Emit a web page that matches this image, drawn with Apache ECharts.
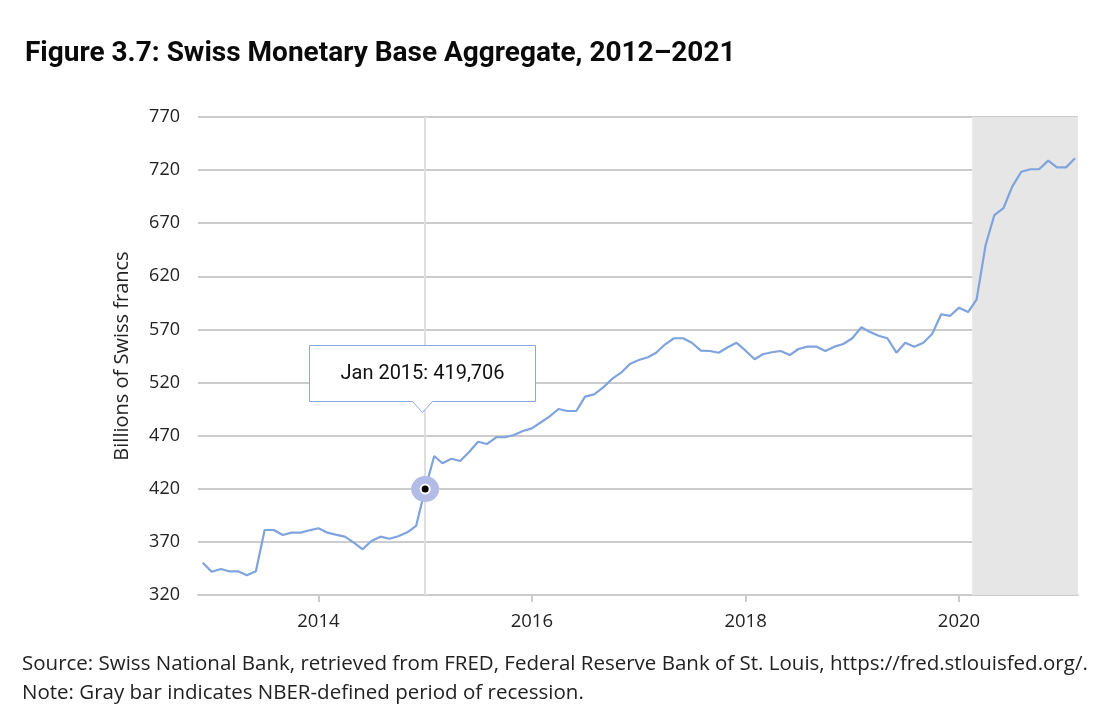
<!DOCTYPE html>
<html><head><meta charset="utf-8">
<script src="https://cdn.jsdelivr.net/npm/echarts@6/dist/echarts.min.js"></script>
<style>html,body{margin:0;padding:0;background:#fff}#c{width:1108px;height:722px}</style>
</head><body><div id="c"></div>
<script>
// Monthly observations, Dec 2012 – Feb 2021 (billions of Swiss francs)
const months = [
  '2012-12',
  '2013-01','2013-02','2013-03','2013-04','2013-05','2013-06','2013-07','2013-08','2013-09','2013-10','2013-11','2013-12',
  '2014-01','2014-02','2014-03','2014-04','2014-05','2014-06','2014-07','2014-08','2014-09','2014-10','2014-11','2014-12',
  '2015-01','2015-02','2015-03','2015-04','2015-05','2015-06','2015-07','2015-08','2015-09','2015-10','2015-11','2015-12',
  '2016-01','2016-02','2016-03','2016-04','2016-05','2016-06','2016-07','2016-08','2016-09','2016-10','2016-11','2016-12',
  '2017-01','2017-02','2017-03','2017-04','2017-05','2017-06','2017-07','2017-08','2017-09','2017-10','2017-11','2017-12',
  '2018-01','2018-02','2018-03','2018-04','2018-05','2018-06','2018-07','2018-08','2018-09','2018-10','2018-11','2018-12',
  '2019-01','2019-02','2019-03','2019-04','2019-05','2019-06','2019-07','2019-08','2019-09','2019-10','2019-11','2019-12',
  '2020-01','2020-02','2020-03','2020-04','2020-05','2020-06','2020-07','2020-08','2020-09','2020-10','2020-11','2020-12',
  '2021-01','2021-02'
];
const values = [
  350.4,
  341.9, 344.5, 342.3, 342.3, 338.5, 342.3, 381.2, 381.2, 376.5, 378.7, 378.7, 380.9,
  382.8, 378.7, 376.8, 374.9, 369.6, 363.0, 370.8, 374.9, 373.0, 375.3, 379.0, 385.0,
  419.706, 450.9, 444.0, 448.3, 446.2, 454.9, 464.3, 462.2, 468.5, 468.5, 470.6, 474.4,
  476.9, 482.6, 487.9, 495.1, 493.2, 493.2, 506.7, 508.9, 515.5, 523.4, 529.3, 537.5,
  541.2, 543.8, 548.1, 556.0, 561.7, 561.7, 557.5, 550.0, 549.7, 548.1, 553.2, 557.5,
  550.0, 541.9, 546.6, 548.5, 549.7, 545.9, 551.6, 553.8, 553.8, 549.7, 553.8, 556.3,
  561.7, 572.0, 567.9, 564.1, 561.7, 548.1, 557.5, 553.8, 557.5, 565.7, 584.3, 582.7,
  590.5, 586.4, 598.0, 649.5, 677.7, 684.1, 704.4, 718.5, 720.8, 720.8, 728.9, 722.6,
  722.6, 731.1
];
const xTickYears = [2014, 2016, 2018, 2020];
const yMin = 320, yMax = 770, yStep = 50;
const xRange = ['2012-11-15', '2021-02-11'];
const recession = ['2020-02-15', '2021-02-11'];
const highlightMonth = '2015-01';
const monthNames = ['Jan','Feb','Mar','Apr','May','Jun','Jul','Aug','Sep','Oct','Nov','Dec'];

function ts(s) {
  const p = s.split('-').map(Number);
  return new Date(p[0], p[1] - 1, p[2] || 1).getTime();
}
const seriesData = months.map((m, i) => [ts(m), values[i]]);
const hi = months.indexOf(highlightMonth);
const hiPoint = seriesData[hi];
const hiDate = new Date(hiPoint[0]);
const hiLabel = monthNames[hiDate.getMonth()] + ' ' + hiDate.getFullYear() + ': ' +
  Math.round(hiPoint[1] * 1000).toLocaleString('en-US');
const xTicks = xTickYears.map(y => new Date(y, 0, 1).getTime());

const TFONT = 'Roboto, "Noto Sans", sans-serif';
const FONT = '"Open Sans", "Noto Sans", sans-serif';
const chart = echarts.init(document.getElementById('c'));
chart.setOption({
  animation: false,
  backgroundColor: '#fff',
  title: {
    text: 'Figure 3.7: Swiss Monetary Base Aggregate, 2012\u20132021',
    left: 20, top: 35,
    textStyle: { fontFamily: TFONT, fontWeight: 'bold', fontSize: 28, color: '#0a0a0a' }
  },
  grid: { left: 198, right: 30, top: 117, bottom: 127 },
  xAxis: {
    type: 'value',
    min: ts(xRange[0]), max: ts(xRange[1]),
    axisLine: { show: true, lineStyle: { color: '#cccccc', width: 2 } },
    axisTick: { show: true, length: 7, customValues: xTicks, lineStyle: { color: '#cccccc', width: 2 } },
    axisLabel: {
      customValues: xTicks, margin: 17,
      formatter: v => String(new Date(v).getFullYear()),
      fontFamily: FONT, fontSize: 18.5, color: '#222'
    },
    splitLine: { show: false }
  },
  yAxis: {
    type: 'value', min: yMin, max: yMax, interval: yStep,
    name: 'Billions of Swiss francs', nameLocation: 'middle', nameGap: 66, nameRotate: 90,
    nameTextStyle: { fontFamily: FONT, fontSize: 20, color: '#222' },
    axisLine: { show: false }, axisTick: { show: false },
    axisLabel: { margin: 18, fontFamily: FONT, fontSize: 18, color: '#222' },
    splitLine: { lineStyle: { color: '#cccccc', width: 2 } }
  },
  series: [
    {
      type: 'line', data: [], z: -1, silent: true,
      markArea: {
        silent: true,
        itemStyle: { color: '#e6e6e6' },
        data: [[{ xAxis: ts(recession[0]) }, { xAxis: ts(recession[1]) }]]
      }
    },
    {
      type: 'line', data: [], z: 1, silent: true,
      markLine: {
        silent: true, symbol: 'none', label: { show: false },
        lineStyle: { color: '#dedede', width: 2, type: 'solid' },
        data: [{ xAxis: hiPoint[0] }]
      }
    },
    {
      type: 'line',
      data: seriesData,
      showSymbol: false, symbol: 'none',
      lineStyle: { color: '#7fa3dc', width: 2.2 },
      z: 3,
      markPoint: {
        silent: true,
        data: [
          { coord: hiPoint, symbol: 'circle', symbolSize: [28, 26],
            itemStyle: { color: '#b3bbe7' }, label: { show: false } },
          { coord: hiPoint, symbol: 'circle', symbolSize: 9,
            itemStyle: { color: '#000', borderColor: '#fff', borderWidth: 2 }, label: { show: false } }
        ]
      }
    }
  ]
});

// Callout anchored to the highlighted point via the chart's own scales
const [px, py] = chart.convertToPixel({ gridIndex: 0 }, hiPoint);
const tipX = Math.round(px) - 2.5, tipY = Math.round(py) - 76.5;
const boxW = 226, boxH = 56, arrowH = 11, arrowW = 10;
const boxL = tipX - boxW / 2, boxB = tipY - arrowH, boxT = boxB - boxH;
chart.setOption({
  graphic: [
    { type: 'polygon', z: 100, silent: true,
      shape: { points: [
        [boxL, boxT], [boxL + boxW, boxT], [boxL + boxW, boxB],
        [tipX + arrowW, boxB], [tipX, tipY], [tipX - arrowW, boxB], [boxL, boxB]
      ] },
      style: { fill: '#fff', stroke: '#8aa6da', lineWidth: 1 } },
    { type: 'text', z: 101, silent: true, x: tipX, y: (boxT + boxB) / 2,
      style: { text: hiLabel, fontFamily: TFONT, fontSize: 20, fill: '#111',
        align: 'center', verticalAlign: 'middle' } },
    { type: 'text', left: 22, top: 654,
      style: { text: 'Source: Swiss National Bank, retrieved from FRED, Federal Reserve Bank of St. Louis, https://fred.stlouisfed.org/.',
        fontFamily: FONT, fontSize: 20.5, fill: '#222' } },
    { type: 'text', left: 22, top: 683,
      style: { text: 'Note: Gray bar indicates NBER-defined period of recession.',
        fontFamily: FONT, fontSize: 20.5, fill: '#222' } }
  ]
});
</script>
</body></html>
